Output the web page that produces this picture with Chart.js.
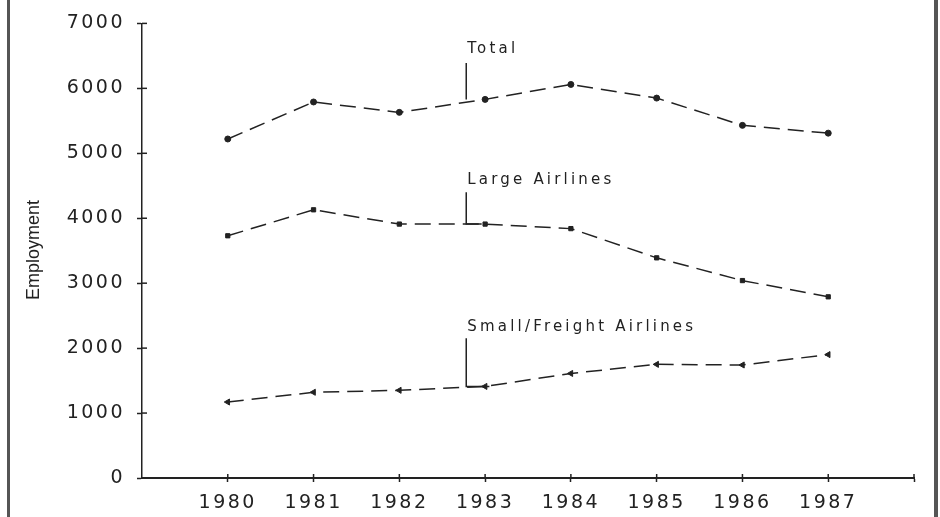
<!DOCTYPE html>
<html>
<head>
<meta charset="utf-8">
<script src="https://cdn.jsdelivr.net/npm/chart.js@4"></script>
<style>
  html, body { margin: 0; padding: 0; background: #fff; overflow: hidden; }
  #wrap { width: 940px; height: 517px; position: relative; }
</style>
</head>
<body>
<div id="wrap"><canvas id="grafico"></canvas></div>
<script>
const years = [1980, 1981, 1982, 1983, 1984, 1985, 1986, 1987];
const total = [5220, 5790, 5630, 5830, 6060, 5850, 5430, 5310];
const large = [3730, 4130, 3910, 3910, 3840, 3390, 3040, 2790];
const small = [1170, 1320, 1350, 1410, 1610, 1750, 1740, 1900];
const yTicks = [0, 1000, 2000, 3000, 4000, 5000, 6000, 7000];

// leader labels: text, leader x (year), text y, line top, line bottom, end of foot
const labels = [
  { text: "Total", x: 1982.78, ty: 6610, top: 6390, bottom: 5830, foot: null },
  { text: "Large Airlines", x: 1982.78, ty: 4590, top: 4400, bottom: 3910, foot: 1982.96 },
  { text: "Small/Freight Airlines", x: 1982.78, ty: 2320, top: 2150, bottom: 1410, foot: 1983.05 }
];

const ink = "#222";
const tickFont = "'DejaVu Sans'";

function serie(valores) {
  return years.map((y, i) => ({ x: y, y: valores[i] }));
}

function dataset(nombre, valores, estilo, radio, rot) {
  return {
    label: nombre,
    data: serie(valores),
    borderColor: ink,
    backgroundColor: ink,
    borderWidth: 1.5,
    borderDash: [16, 8],
    pointStyle: estilo,
    pointRadius: radio,
    pointRotation: rot || 0,
    pointBorderWidth: 1,
    tension: 0
  };
}

const extras = {
  id: "extras",
  beforeDraw(chart) {
    chart.ctx.letterSpacing = "2.5px";
  },
  afterDraw(chart) {
    const ctx = chart.ctx;
    const xs = chart.scales.x;
    const ys = chart.scales.y;
    ctx.save();
    ctx.letterSpacing = "0px";
    ctx.strokeStyle = ink;
    ctx.lineWidth = 1.5;

    // inner half of the tick marks
    yTicks.forEach(v => {
      if (v === 0) return;
      const py = ys.getPixelForValue(v);
      ctx.beginPath();
      ctx.moveTo(xs.left, py);
      ctx.lineTo(xs.left + 5, py);
      ctx.stroke();
    });
    years.concat([1988]).forEach(v => {
      const px = xs.getPixelForValue(v);
      ctx.beginPath();
      ctx.moveTo(px, ys.bottom);
      ctx.lineTo(px, ys.bottom - 4);
      ctx.stroke();
    });

    // y axis title
    ctx.save();
    ctx.translate(34, 250);
    ctx.rotate(-Math.PI / 2);
    ctx.font = "18px 'Liberation Sans Narrow', 'Liberation Sans', sans-serif";
    ctx.fillStyle = ink;
    ctx.textAlign = "center";
    ctx.textBaseline = "middle";
    ctx.fillText("Employment", 0, 0);
    ctx.restore();

    // leader labels
    ctx.font = "15px " + tickFont;
    ctx.letterSpacing = "3.2px";
    ctx.fillStyle = ink;
    ctx.textAlign = "left";
    ctx.textBaseline = "middle";
    labels.forEach(l => {
      const px = xs.getPixelForValue(l.x);
      ctx.fillText(l.text, px + 1, ys.getPixelForValue(l.ty));
      ctx.beginPath();
      ctx.moveTo(px, ys.getPixelForValue(l.top));
      ctx.lineTo(px, ys.getPixelForValue(l.bottom));
      if (l.foot) ctx.lineTo(xs.getPixelForValue(l.foot), ys.getPixelForValue(l.bottom));
      ctx.stroke();
    });

    // scanned frame edges
    ctx.fillStyle = "#555";
    ctx.fillRect(7, 0, 3, chart.height);
    ctx.fillRect(934, 0, 4, chart.height);
    ctx.restore();
  }
};

new Chart(document.getElementById("grafico"), {
  type: "line",
  data: {
    datasets: [
      dataset("Total", total, "circle", 3),
      dataset("Large Airlines", large, "rect", 3),
      dataset("Small/Freight Airlines", small, "triangle", 3.5, -90)
    ]
  },
  options: {
    responsive: true,
    maintainAspectRatio: false,
    animation: false,
    layout: { padding: { left: 0, right: 26, top: 22, bottom: 0 } },
    plugins: {
      legend: { display: false },
      tooltip: { enabled: false }
    },
    scales: {
      x: {
        type: "linear",
        min: 1979,
        max: 1988,
        afterFit: s => { s.height = 39; },
        afterBuildTicks: s => { s.ticks = years.concat([1979, 1988]).sort().map(v => ({ value: v })); },
        grid: {
          drawOnChartArea: false,
          tickLength: 4,
          tickWidth: 1.5,
          tickColor: c => (c.tick && c.tick.value === 1979) ? "rgba(0,0,0,0)" : ink
        },
        border: { color: ink, width: 2 },
        ticks: {
          padding: 10,
          color: ink,
          font: { family: tickFont, size: 19 },
          maxRotation: 0,
          autoSkip: false,
          callback: v => (v >= 1980 && v <= 1987) ? String(v) : ""
        }
      },
      y: {
        min: 0,
        max: 7000,
        afterFit: s => { s.width = 142; },
        afterBuildTicks: s => { s.ticks = yTicks.map(v => ({ value: v })); },
        grid: { drawOnChartArea: false, tickLength: 5, tickWidth: 1.5, tickColor: ink },
        border: { color: ink, width: 1.5 },
        ticks: {
          padding: 12,
          color: ink,
          font: { family: tickFont, size: 19 },
          callback: v => String(v)
        }
      }
    }
  },
  plugins: [extras]
});
</script>
</body>
</html>
